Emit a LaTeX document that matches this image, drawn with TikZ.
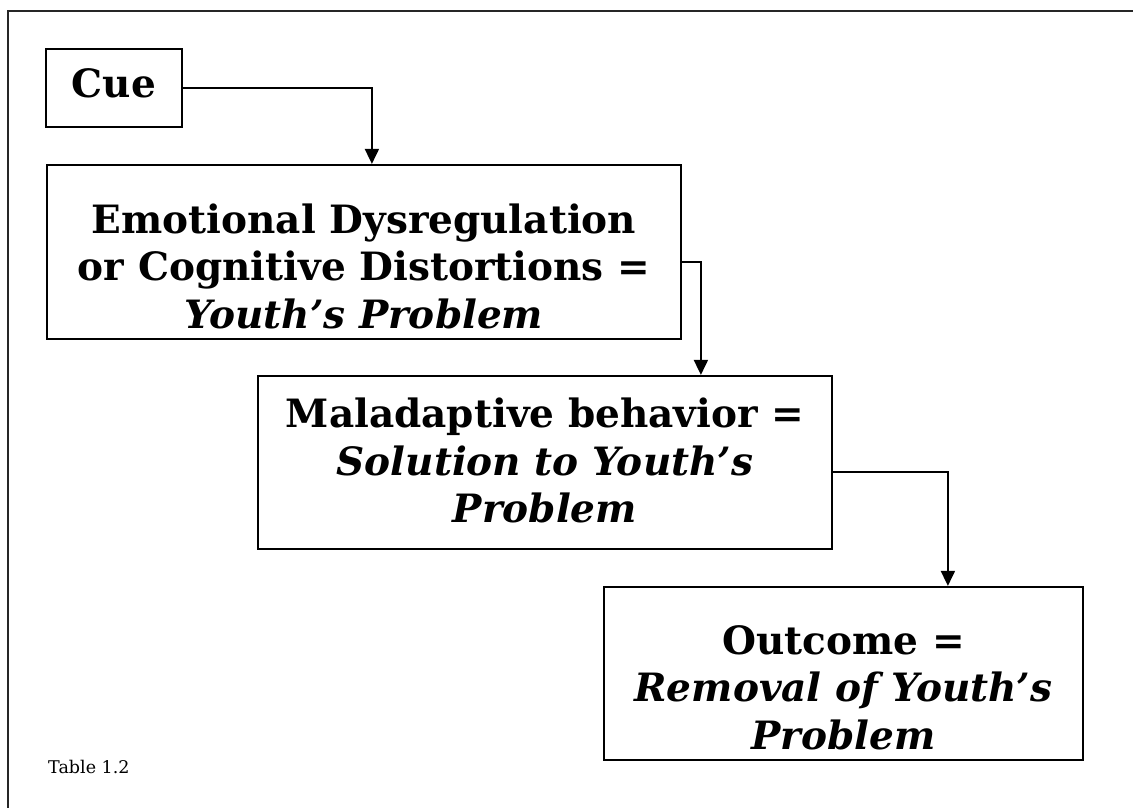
\documentclass[tikz,border=0pt]{standalone}
\usepackage{fontspec}
\setmainfont{DejaVu Serif}
\usetikzlibrary{arrows.meta,calc}
\tikzset{
  frameline/.style={line width=2pt, black!85},
  stepbox/.style={draw, line width=2.2pt, black, inner sep=0pt},
  boxtext/.style={align=center, inner sep=0pt, text=black,
    font=\fontsize{39}{47.5}\selectfont\bfseries},
  link/.style={line width=1.8pt, -{Triangle[length=15pt,width=14pt]}},
}
\begin{document}
\begin{tikzpicture}[x=1pt,y=-1pt]
  \useasboundingbox (0,0) rectangle (1133,808);
  % open frame: only top and left edges are shown
  \draw[frameline] (8,1200) -- (8,11) -- (1200,11);

  % boxes
  \node[stepbox, minimum width=136pt, minimum height=78pt] (cue) at (114,88) {};
  \node[stepbox, minimum width=634pt, minimum height=174pt] (emo) at (364,252) {};
  \node[stepbox, minimum width=574pt, minimum height=173pt] (mal) at (545,462.5) {};
  \node[stepbox, minimum width=479pt, minimum height=173pt] (out) at (843.5,673.5) {};

  % box texts (yshift is in page direction: negative moves down)
  \node[boxtext] (cuetext) at ([yshift=5pt]cue.center) {Cue};
  \node[boxtext] (emotext) at ([yshift=-14pt]emo.center)
    {Emotional Dysregulation\\or Cognitive Distortions =\\\itshape Youth’s Problem};
  \node[boxtext] (maltext) at ([yshift=2pt]mal.center)
    {Maladaptive behavior =\\\itshape Solution to Youth’s\\\itshape Problem};
  \node[boxtext] (outtext) at ([yshift=-14pt]out.center)
    {Outcome =\\\itshape Removal of Youth’s\\\itshape Problem};

  \node[anchor=base west, font=\fontsize{17.5}{22}\selectfont, inner sep=0pt, text=black] (tab) at (48,773) {Table 1.2};

  % connectors
  \draw[link] (cue.east) -| ([xshift=326pt]emo.north west);
  \draw[link] ([yshift=-10pt]emo.east) -| ([xshift=444pt]mal.north west);
  \draw[link] ([yshift=-9.5pt]mal.east) -| ([xshift=345pt]out.north west);
\end{tikzpicture}
\end{document}
